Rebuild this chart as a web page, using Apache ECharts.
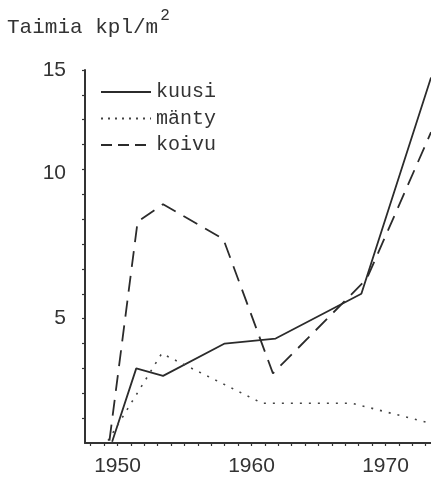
<!DOCTYPE html>
<html>
<head>
<meta charset="utf-8">
<script src="https://cdn.jsdelivr.net/npm/echarts@6/dist/echarts.min.js"></script>
<style>
  html, body { margin: 0; padding: 0; background: #ffffff; }
  #chart { width: 431px; height: 478px; }
</style>
</head>
<body>
<div id="chart"></div>
<script>
// Seedling density (kpl/m²) by year for three tree species
const kuusiYears = [1949.6, 1951.4, 1953.4, 1958.0, 1961.8, 1968.2, 1973.4];
const kuusiValues = [0.05, 3.0, 2.7, 4.0, 4.2, 6.0, 14.7];

const mantyYears = [1949.3, 1953.3, 1960.8, 1967.5, 1973.3];
const mantyValues = [0.1, 3.6, 1.6, 1.6, 0.8];

const koivuYears = [1949.4, 1951.5, 1953.4, 1957.9, 1961.6, 1968.6, 1973.4];
const koivuValues = [0.1, 8.9, 9.6, 8.2, 2.8, 6.6, 12.5];

const seriesNames = ['kuusi', 'mänty', 'koivu'];
const xLabelValues = [1950, 1960, 1970];
const yLabelValues = [5, 10, 15];

const pairs = (xs, ys) => xs.map((x, i) => [x, ys[i]]);

const yearTicks = [];
for (let y = 1948; y <= 1973; y++) yearTicks.push(y);
const unitTicks = [];
for (let v = 1; v <= 15; v++) unitTicks.push(v);

const ink = '#333333';
const labelFont = 'Liberation Sans';
const monoFont = 'Liberation Mono';

const chart = echarts.init(document.getElementById('chart'), null, { renderer: 'canvas' });

chart.setOption({
  animation: false,
  backgroundColor: '#ffffff',
  color: ['#2b2b2b', '#444444', '#2b2b2b'],
  title: {
    text: '{a|Taimia kpl/m}{s|2}',
    left: 7,
    top: 8,
    padding: 0,
    textStyle: {
      fontWeight: 'normal',
      rich: {
        a: { fontFamily: monoFont, fontSize: 21, fontWeight: 'normal', color: ink, lineHeight: 30, verticalAlign: 'bottom' },
        s: { fontFamily: monoFont, fontSize: 16, fontWeight: 'normal', color: ink, lineHeight: 12, verticalAlign: 'top', padding: [0, 0, 0, 2] }
      }
    }
  },
  legend: {
    orient: 'vertical',
    left: 100,
    top: 82,
    padding: 0,
    itemWidth: 50,
    itemHeight: 20,
    itemGap: 6.5,
    itemStyle: { opacity: 0 },
    data: [
      { name: seriesNames[0] },
      { name: seriesNames[1], lineStyle: { type: [2, 5] } },
      { name: seriesNames[2], lineStyle: { type: [11, 6] } }
    ],
    textStyle: { fontFamily: monoFont, fontSize: 20, color: ink }
  },
  grid: { left: 85, right: 0, top: 70, bottom: 35, containLabel: false },
  xAxis: {
    type: 'value',
    min: 1947.575,
    max: 1973.396,
    splitLine: { show: false },
    axisLine: { lineStyle: { color: ink, width: 2 } },
    axisTick: { show: true, length: 3, customValues: yearTicks, lineStyle: { color: ink, width: 1.2 } },
    axisLabel: {
      customValues: xLabelValues,
      margin: 13,
      fontFamily: labelFont,
      fontSize: 21,
      color: ink,
      formatter: v => String(v)
    }
  },
  yAxis: {
    type: 'value',
    min: 0,
    max: 15,
    splitLine: { show: false },
    axisLine: { show: true, lineStyle: { color: ink, width: 2 } },
    axisTick: { show: true, length: 3, customValues: unitTicks, lineStyle: { color: ink, width: 1.2 } },
    axisLabel: {
      customValues: yLabelValues,
      margin: 19,
      fontFamily: labelFont,
      fontSize: 21,
      color: ink,
      formatter: v => (v === 10 ? '{up|10}' : String(v)),
      rich: { up: { fontFamily: labelFont, fontSize: 21, color: ink, padding: [0, 0, 42, 0] } }
    }
  },
  series: [
    {
      name: seriesNames[0],
      type: 'line',
      symbol: 'none',
      data: pairs(kuusiYears, kuusiValues),
      lineStyle: { color: '#2b2b2b', width: 1.8, type: 'solid' }
    },
    {
      name: seriesNames[1],
      type: 'line',
      symbol: 'none',
      data: pairs(mantyYears, mantyValues),
      lineStyle: { color: '#444444', width: 1.6, type: [2, 7] }
    },
    {
      name: seriesNames[2],
      type: 'line',
      symbol: 'none',
      data: pairs(koivuYears, koivuValues),
      lineStyle: { color: '#2b2b2b', width: 1.8, type: [16, 9] }
    }
  ]
});
</script>
</body>
</html>
